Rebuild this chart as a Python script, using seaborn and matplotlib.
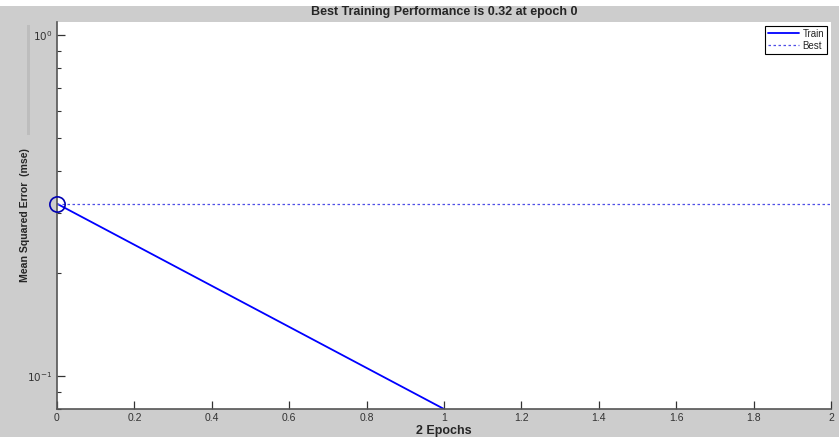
import matplotlib
matplotlib.use("Agg")
import matplotlib.pyplot as plt
import seaborn as sns
import pandas as pd
from matplotlib.patches import Rectangle
from matplotlib.ticker import FixedLocator, NullFormatter

epochs = [0, 1]
train_mse = [0.32, 0.08]
best_epoch = 0
best_mse = 0.32
x_ticks = [0, 0.2, 0.4, 0.6, 0.8, 1, 1.2, 1.4, 1.6, 1.8, 2]
x_tick_labels = ["0", "0.2", "0.4", "0.6", "0.8", "1", "1.2", "1.4", "1.6", "1.8", "2"]

sns.set_theme(style="white")
plt.rcParams['font.family'] = ['Liberation Sans', 'DejaVu Sans']

fig = plt.figure(figsize=(8.39, 4.37), dpi=100, facecolor="#cdcdcd")
# white strip at top
fig.patches.append(Rectangle((0, 1 - 6/437), 1, 6/437, transform=fig.transFigure,
                             facecolor="white", edgecolor="none", zorder=0))
# slider-like decoration on left
fig.patches.append(Rectangle((27/839, 1 - 135/437), 3/839, 110/437, transform=fig.transFigure,
                             facecolor="#bdbdbd", edgecolor="none", zorder=0))

ax = fig.add_axes([57/839, 1 - 409/437, (831-57)/839, (409-22)/437])
ax.set_facecolor("white")

df = pd.DataFrame({"Epoch": epochs, "MSE": train_mse})
sns.lineplot(data=df, x="Epoch", y="MSE", ax=ax, color=(0, 0, 1), linewidth=1.3, label="Train")
best_df = pd.DataFrame({"Epoch": [0, 2], "MSE": [best_mse, best_mse]})
sns.lineplot(data=best_df, x="Epoch", y="MSE", ax=ax, color=(0.3, 0.3, 0.9), linewidth=0.9,
             linestyle=(0, (2, 2)), label="Best")
ax.plot([best_epoch], [best_mse], marker="o", markersize=11, markerfacecolor="none",
        markeredgecolor=(0, 0, 0.7), markeredgewidth=1.2, linestyle="none", clip_on=False, zorder=5)

ax.set_yscale("log")
ax.set_xlim(0, 2)
ax.set_ylim(0.08, 1.092)
ax.set_xticks(x_ticks)
ax.set_xticklabels(x_tick_labels)
ax.set_yticks([0.1, 1])
ax.set_yticklabels([r"$10^{-1}$", r"$10^{0}$"])
ax.yaxis.set_minor_locator(FixedLocator([0.08, 0.09] + [i/10 for i in range(2, 10)]))
ax.yaxis.set_minor_formatter(NullFormatter())

for s in ["top", "right"]:
    ax.spines[s].set_visible(False)
for s in ["left", "bottom"]:
    ax.spines[s].set_color("#555555")
    ax.spines[s].set_linewidth(1.2)

ax.tick_params(axis="both", which="major", direction="in", length=6, width=0.9,
               color="#333333", labelsize=7.5, labelcolor="#333333", left=True, bottom=True)
ax.tick_params(axis="y", which="minor", direction="in", length=3, width=0.8, color="#333333", left=True)
ax.tick_params(axis="x", pad=3)

ax.set_title("Best Training Performance is 0.32 at epoch 0", fontsize=9, fontweight="bold", pad=5)
ax.set_xlabel("2 Epochs", fontsize=9, fontweight="bold", labelpad=1)
ax.set_ylabel("Mean Squared Error  (mse)", fontsize=7.6, fontweight="bold")
ax.yaxis.set_label_coords((30 - 57) / 774, 0.5)

leg = ax.legend(loc="upper right", fontsize=7, frameon=True, fancybox=False,
                edgecolor="black", framealpha=1, handlelength=3.2, borderpad=0.3,
                labelspacing=0.2, handletextpad=0.4, borderaxespad=0.4)
leg.get_frame().set_linewidth(0.8)

fig.savefig("out.png", dpi=100, facecolor=fig.get_facecolor())
